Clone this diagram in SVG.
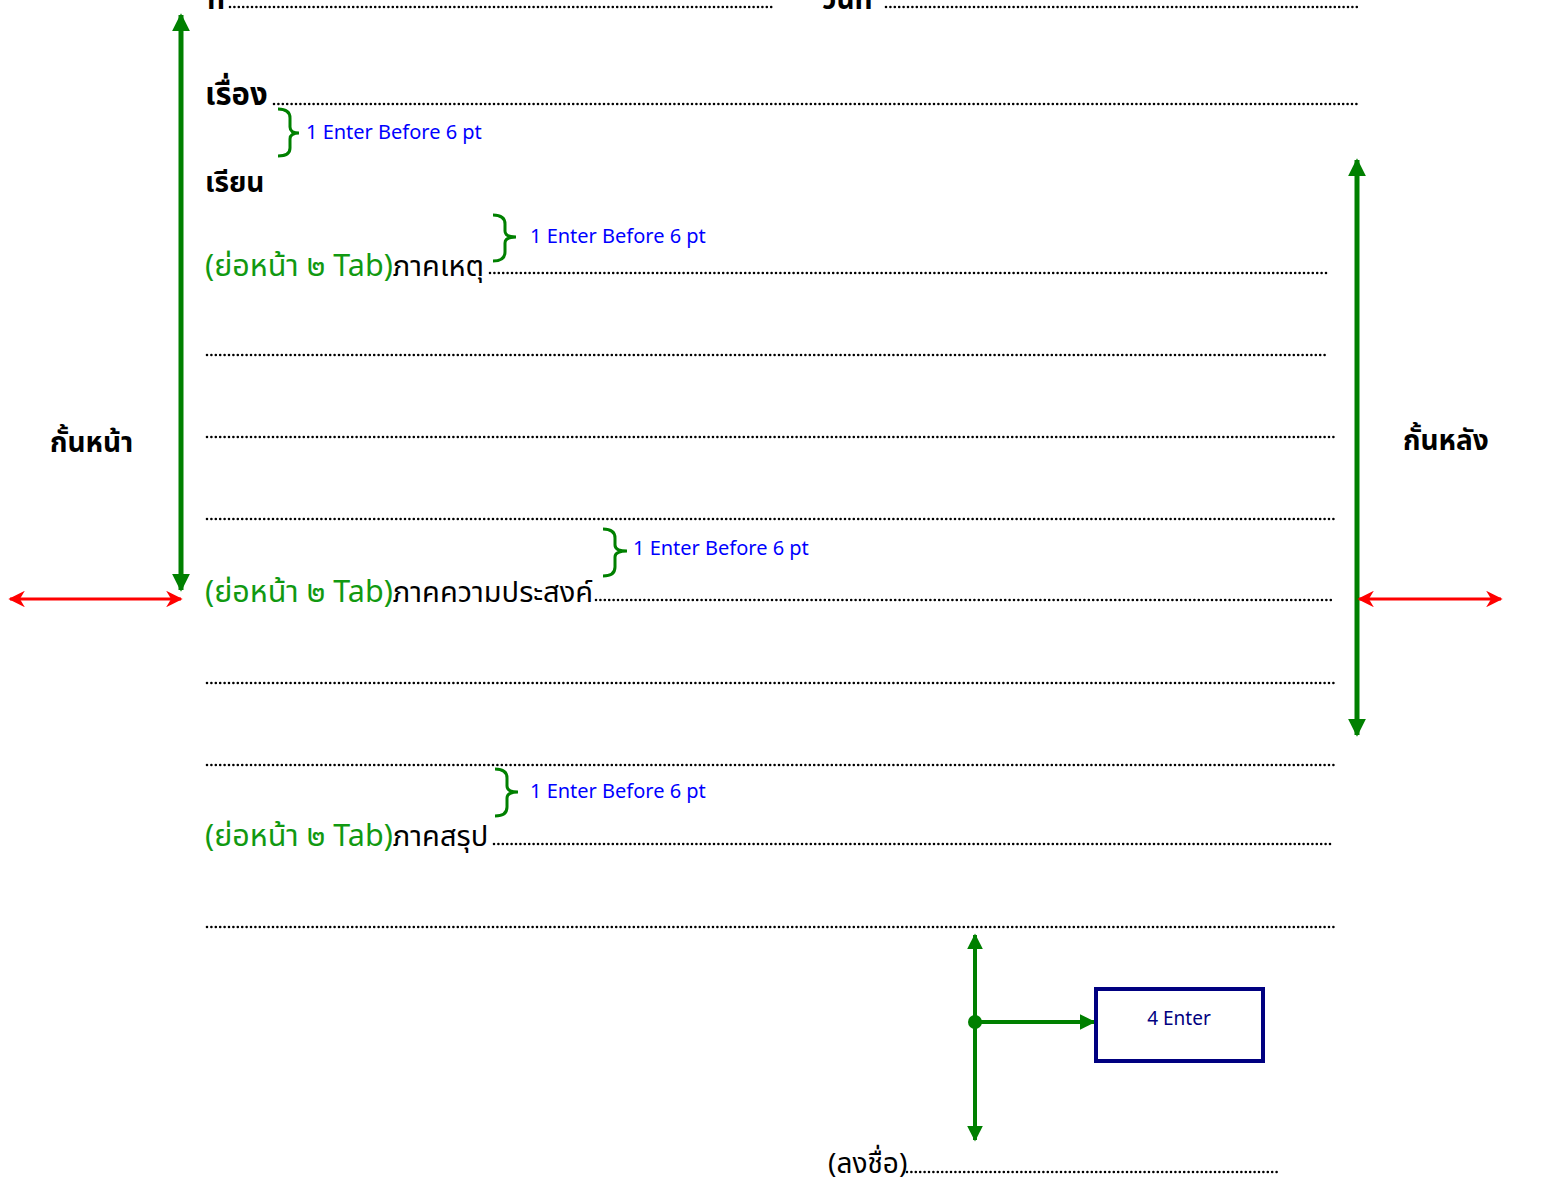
<svg xmlns="http://www.w3.org/2000/svg" width="1543" height="1191" viewBox="0 0 1543 1191">
<defs>
<style>
.th{font-family:"Noto Sans Thai","Noto Sans","DejaVu Sans",sans-serif;}
.b{font-weight:bold;fill:#000;font-size:28px;}
.reg{fill:#000;font-size:29px;}
.gr{fill:#119911;font-size:30.5px;}
.lbl{font-family:"Noto Sans","DejaVu Sans",sans-serif;fill:#0000ff;font-size:20px;}
.dots{stroke:#000;stroke-width:2.6;stroke-dasharray:0 4.4;stroke-linecap:round;fill:none;}
.brace{stroke:#008000;stroke-width:3;fill:none;}
.garrow{stroke:#008000;stroke-width:5;fill:none;}
.garrow2{stroke:#008000;stroke-width:4;fill:none;}
.rarrow{stroke:#ff0000;stroke-width:3;fill:none;}
</style>
<marker id="gEnd" viewBox="0 0 10 10" refX="9" refY="5" markerWidth="3.6" markerHeight="3.6" orient="auto-start-reverse" markerUnits="strokeWidth">
<path d="M0,0 L10,5 L0,10 z" fill="#008000"/>
</marker>
<marker id="gEnd2" viewBox="0 0 10 10" refX="9" refY="5" markerWidth="4" markerHeight="4" orient="auto-start-reverse" markerUnits="strokeWidth">
<path d="M0,0 L10,5 L0,10 z" fill="#008000"/>
</marker>
<marker id="rEnd" viewBox="0 0 10 10" refX="9" refY="5" markerWidth="5.5" markerHeight="5.5" orient="auto-start-reverse" markerUnits="strokeWidth">
<path d="M0,0 L10,5 L0,10 L3,5 z" fill="#ff0000"/>
</marker>
</defs>
<rect width="1543" height="1191" fill="#fff"/>

<g id="connectors">
<line class="garrow" x1="181" y1="590" x2="181" y2="15" marker-end="url(#gEnd)" marker-start="url(#gEnd)"/>
<line class="garrow" x1="1357" y1="160" x2="1357" y2="735" marker-end="url(#gEnd)" marker-start="url(#gEnd)"/>
<line class="rarrow" x1="10" y1="599" x2="181" y2="599" marker-end="url(#rEnd)" marker-start="url(#rEnd)"/>
<line class="rarrow" x1="1359" y1="599" x2="1501" y2="599" marker-end="url(#rEnd)" marker-start="url(#rEnd)"/>
<line class="garrow2" x1="975" y1="935" x2="975" y2="1140" marker-end="url(#gEnd2)" marker-start="url(#gEnd2)"/>
<line class="garrow2" x1="975" y1="1022" x2="1094" y2="1022" marker-end="url(#gEnd2)"/>
<circle cx="975" cy="1022" r="7" fill="#008000"/>
</g>

<g id="header">
<text class="th b" x="207" y="9">ที่</text>
<line class="dots" x1="230" y1="7" x2="775" y2="7"/>
<text class="th b" x="822" y="9">วันที่</text>
<line class="dots" x1="886" y1="7" x2="1360" y2="7"/>
<text class="th b" x="205" y="105" style="font-size:31px">เรื่อง</text>
<line class="dots" x1="274" y1="104" x2="1360" y2="104"/>
<text class="th b" x="205" y="192">เรียน</text>
</g>

<g id="brace1">
<path class="brace" d="M278,109 Q290,109 290,118 L290,127 Q290,133 299,133 Q290,133 290,139 L290,148 Q290,156 278,156"/>
<text class="lbl" x="306" y="139">1 Enter Before 6 pt</text>
</g>
<g id="brace2">
<path class="brace" d="M493,215 Q505,215 505,224 L505,231 Q505,237 516,237 Q505,237 505,243 L505,252 Q505,261 493,261"/>
<text class="lbl" x="530" y="243">1 Enter Before 6 pt</text>
</g>
<g id="brace3">
<path class="brace" d="M603,529 Q615,529 615,538 L615,545 Q615,551 627,551 Q615,551 615,557 L615,567 Q615,576 603,576"/>
<text class="lbl" x="633" y="555">1 Enter Before 6 pt</text>
</g>
<g id="brace4">
<path class="brace" d="M495,769 Q507,769 507,778 L507,786 Q507,792 518,792 Q507,792 507,798 L507,807 Q507,816 495,816"/>
<text class="lbl" x="530" y="798">1 Enter Before 6 pt</text>
</g>

<g id="body">
<text class="th" x="205" y="276"><tspan class="gr">(ย่อหน้า ๒ Tab)</tspan><tspan class="reg">ภาคเหตุ</tspan></text>
<line class="dots" x1="490" y1="273" x2="1328" y2="273"/>
<line class="dots" x1="207" y1="355" x2="1328" y2="355"/>
<line class="dots" x1="207" y1="437" x2="1334" y2="437"/>
<line class="dots" x1="207" y1="519" x2="1334" y2="519"/>
<text class="th" x="205" y="602"><tspan class="gr">(ย่อหน้า ๒ Tab)</tspan><tspan class="reg">ภาคความประสงค์</tspan></text>
<line class="dots" x1="596" y1="600" x2="1334" y2="600"/>
<line class="dots" x1="207" y1="683" x2="1334" y2="683"/>
<line class="dots" x1="207" y1="765" x2="1334" y2="765"/>
<text class="th" x="205" y="846"><tspan class="gr">(ย่อหน้า ๒ Tab)</tspan><tspan class="reg">ภาคสรุป</tspan></text>
<line class="dots" x1="494" y1="844" x2="1334" y2="844"/>
<line class="dots" x1="207" y1="927" x2="1334" y2="927"/>
</g>

<g id="margin-left">
<text class="th b" x="50" y="452">กั้นหน้า</text>
</g>
<g id="margin-right">
<text class="th b" x="1403" y="450">กั้นหลัง</text>
</g>

<g id="box-4enter">
<rect x="1096" y="989" width="167" height="72" fill="#fff" stroke="#000080" stroke-width="4"/>
<text x="1179" y="1025" text-anchor="middle" style="font-family:'Noto Sans','DejaVu Sans',sans-serif;font-size:19px;fill:#000080">4 Enter</text>
</g>

<g id="signature">
<text class="th" x="828" y="1173" style="font-size:28px;fill:#000">(ลงชื่อ)</text>
<line class="dots" x1="907" y1="1172" x2="1278" y2="1172"/>
</g>
</svg>
